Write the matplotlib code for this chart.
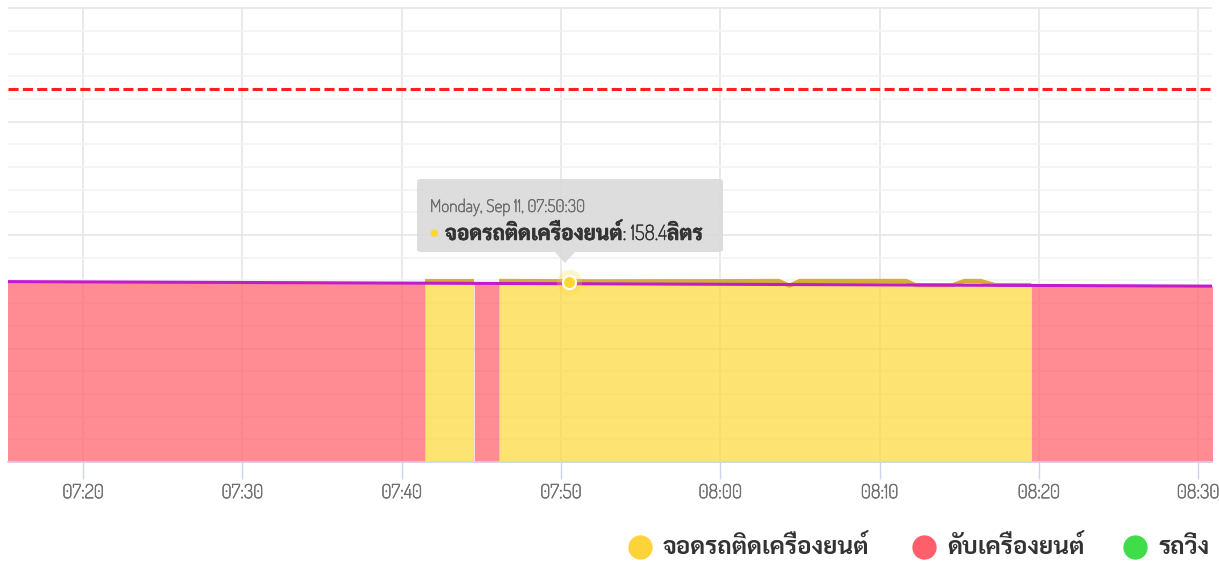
import matplotlib
matplotlib.use('Agg')
import pandas as pd
import matplotlib.pyplot as plt
import matplotlib.dates as mdates
import matplotlib.patheffects as pe
from matplotlib.lines import Line2D
from matplotlib.patches import FancyBboxPatch, Polygon

day = '2023-09-11 '

# engine off (red), pairs of start/end
off_times = ['07:15:00', '07:41:28', '07:44:33', '07:46:07', '08:19:31', '08:31:00']
off_fuel = [159.0, 157.6, 157.4, 157.3, 155.4, 155.0]

# idling (yellow), two blocks
idle1_times = ['07:41:28', '07:44:33']
idle1_fuel = [159.6, 159.6]
idle2_times = ['07:46:07', '07:52:00', '08:00:00', '08:03:40', '08:04:20', '08:05:00',
               '08:11:40', '08:12:15', '08:14:35', '08:15:20', '08:16:20', '08:17:15', '08:19:31']
idle2_fuel = [159.6, 159.3, 159.4, 159.6, 155.4, 159.6,
              159.6, 155.9, 155.9, 159.6, 159.6, 156.0, 156.0]

# fuel level trend (purple)
level_times = ['07:15:00', '08:31:00']
level_fuel = [159.0, 155.0]

limit_fuel = 329
hover_time = '07:50:30'
hover_fuel = 158.4

legend_names = ['จอดรถติดเครื่องยนต์', 'ดับเครื่องยนต์', 'รถวิ่ง']
legend_colors = ['#fdd33a', '#ff5f6a', '#3fdd4a']

latin = ['Dosis', 'Kanit', 'DejaVu Sans']
thai = ['Sarabun', 'Noto Sans Thai Looped', 'DejaVu Sans']
mixed = ['Dosis', 'Sarabun', 'DejaVu Sans']


def t(lst):
    return pd.to_datetime([day + s for s in lst])


def heavy(color, w=0.9):
    # Dosis here is a single light weight, thicken it a bit
    return [pe.withStroke(linewidth=w, foreground=color)]


W, H = 1219, 565
fig = plt.figure(figsize=(W / 100, H / 100), dpi=100)
ax = fig.add_axes([8 / W, 103 / H, 1204 / W, 455 / H])

# fills
ot = t(off_times)
for i in range(0, len(ot), 2):
    ax.fill_between(ot[i:i + 2], 0, off_fuel[i:i + 2], color='#ff5f6a', alpha=0.72, lw=0, zorder=2)

for tt, ff in [(idle1_times, idle1_fuel), (idle2_times, idle2_fuel)]:
    ax.fill_between(t(tt), 0, ff, color='#fdd835', alpha=0.7, lw=0, zorder=2)
    ax.plot(t(tt), ff, color='#d6ad34', lw=3, solid_joinstyle='round', solid_capstyle='butt', zorder=3)

ax.plot(t(level_times), level_fuel, color='#c01ccc', lw=2.2, zorder=4)
ax.axhline(limit_fuel, color='#ff1f1f', lw=2.2, ls=(0, (3.3, 1.4)), zorder=4)

# hover marker
ht = t([hover_time])
ax.scatter(ht, [hover_fuel], s=330, color='#fdd835', alpha=0.25, lw=0, zorder=5)
ax.scatter(ht, [hover_fuel], s=90, color='#fdd835', edgecolor='white', lw=1.5, zorder=6)

# axes
ax.set_xlim(pd.Timestamp(day + '07:15:17'), pd.Timestamp(day + '08:30:52'))
ax.set_ylim(0, 401)
ax.xaxis.set_major_locator(mdates.MinuteLocator(byminute=range(0, 60, 10)))
ax.xaxis.set_major_formatter(mdates.DateFormatter('%H:%M'))
ax.set_yticks(range(0, 401, 100))
ax.set_yticks(range(0, 401, 20), minor=True)
ax.tick_params(axis='y', which='both', left=False, labelleft=False)
ax.tick_params(axis='x', length=12, width=1, color='#ccd6eb', pad=4,
               labelsize=14, labelcolor='#707070')
for lab in ax.get_xticklabels():
    lab.set_fontfamily(latin)
    lab.set_path_effects(heavy('#707070', 0.45))
ax.grid(axis='x', color='#e6e6e6', lw=1.2, zorder=1)
ax.grid(axis='y', which='major', color='#e6e6e6', lw=1.2, zorder=1)
ax.grid(axis='y', which='minor', color='#f2f2f2', lw=1.2, zorder=1)
ax.set_axisbelow(True)
for s in ['top', 'left', 'right']:
    ax.spines[s].set_visible(False)
ax.spines['bottom'].set_color('#ccd6eb')
ax.spines['bottom'].set_linewidth(1.2)

# tooltip
box = FancyBboxPatch((417 / W, 1 - 252 / H), 306 / W, 73 / H, boxstyle='round,pad=0,rounding_size=0.004',
                     transform=fig.transFigure, fc='#dadada', ec='none', alpha=0.9, zorder=10)
fig.patches.append(box)
tri = Polygon([(555 / W, 1 - 252 / H), (575 / W, 1 - 252 / H), (565 / W, 1 - 263 / H)],
              closed=True, transform=fig.transFigure, fc='#dadada', ec='none', alpha=0.9, zorder=10)
fig.patches.append(tri)
fig.text(430 / W, 1 - 212 / H, 'Monday, Sep 11, 07:50:30', family=latin,
         fontsize=12.5, color='#6a6a6a', va='baseline', zorder=11,
         path_effects=heavy('#6a6a6a', 0.35))
fig.text(429 / W, 1 - 233 / H, '●', fontsize=7, color='#fdd835', va='center', zorder=11)
fig.text(445 / W, 1 - 240 / H, 'จอดรถติดเครื่องยนต์: 158.4ลิตร', family=mixed,
         weight='bold', fontsize=15, color='#333333', va='baseline', zorder=11,
         path_effects=heavy('#333333', 0.35))

# legend
dot_x = [640, 923.5, 1135]
text_x = [663, 947, 1158]
for name, c, dx, tx in zip(legend_names, legend_colors, dot_x, text_x):
    fig.add_artist(Line2D([dx / W], [1 - 547 / H], transform=fig.transFigure, marker='o',
                          markersize=16.5, color=c, ls='none'))
    fig.text(tx / W, 1 - 554 / H, name, family=thai, weight='bold', fontsize=17.5,
             color='#333333', va='baseline')

fig.savefig('out.png', dpi=100)
